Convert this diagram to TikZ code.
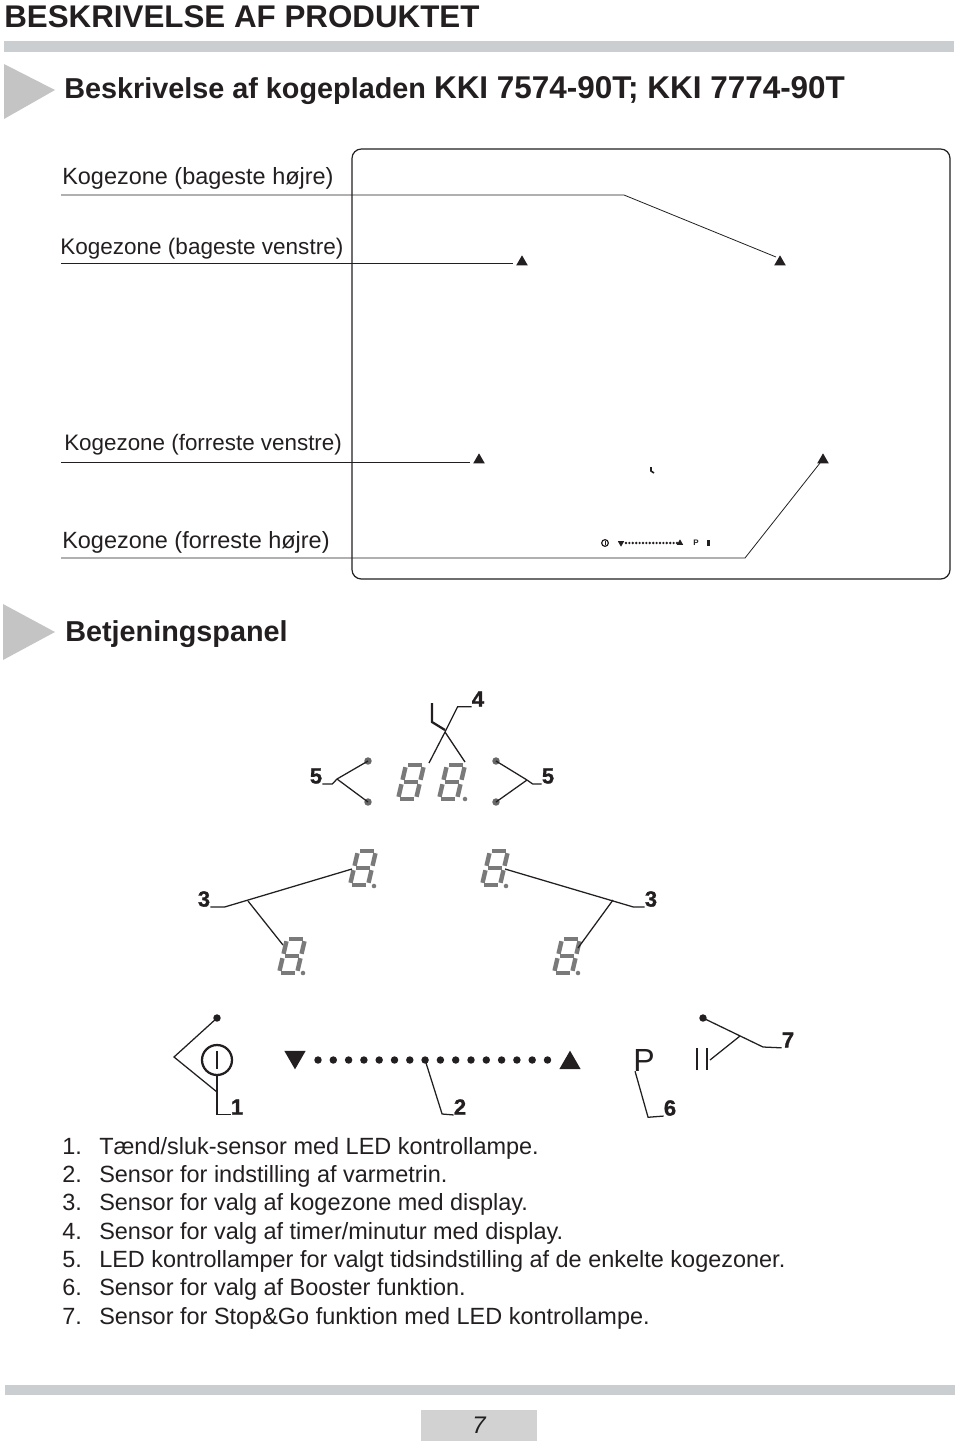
\documentclass[tikz,border=0pt]{standalone}
\usepackage{fontspec}
\setmainfont{Liberation Sans}
\newfontfamily\numfont[FakeBold=1.2]{Liberation Sans Bold}
\usetikzlibrary{positioning,shapes.geometric}
\definecolor{barcol}{HTML}{CBCED1}
\definecolor{tricol}{HTML}{C4C4C4}
\definecolor{pagecol}{HTML}{D2D2D2}
\definecolor{inkcol}{HTML}{231F20}
\definecolor{segcol}{HTML}{7A7A7A}

\begin{document}
\begin{tikzpicture}[
    x=0.75pt, y=-0.75pt,
    txt/.style={anchor=base west, inner sep=0, text=inkcol, font=\fontsize{17.6}{20}\selectfont},
    head/.style={anchor=base west, inner sep=0, text=inkcol, font=\bfseries\fontsize{21.6}{25}\selectfont},
    num/.style={inner sep=0, text=inkcol, font=\numfont\fontsize{16.5}{19}\selectfont},
    leader/.style={draw=inkcol, line width=0.6pt},
    panelline/.style={draw=inkcol, line width=0.95pt},
    tipmark/.style={regular polygon, regular polygon sides=3, fill=inkcol, inner sep=0, minimum size=10pt},
    led/.style={circle, fill=inkcol, inner sep=0, minimum size=5.6pt},
    grayled/.style={circle, fill=segcol!85!black, inner sep=0, minimum size=5.6pt},
    digit/.pic={
        \foreach \a/\b/\c/\d in {10/2/28/2, 6/19/24/19, 2/36/20/36, 10/2/6/19, 6/19/2/36, 28/2/24/19, 24/19/20/36}
            \draw[segcol, line width=3.3pt, shorten >=1.7pt, shorten <=1.7pt] (\a,\b) -- (\c,\d);
    },
]
\useasboundingbox (0,0) rectangle (960,1443);

% page furniture
\node[head, font=\bfseries\fontsize{23.5}{28}\selectfont] (title) at (4,27) {BESKRIVELSE AF PRODUKTET};
\fill[barcol] (4,41) rectangle (954,52);
\fill[tricol] (4,64) -- (55,90) -- (4,119) -- cycle;
\node[head] (sub1) at (64,98) {Beskrivelse af kogepladen {\fontsize{23.6}{25}\selectfont KKI 7574-90T; KKI 7774-90T}};
\fill[tricol] (3,604) -- (55,632) -- (3,660) -- cycle;
\node[head] (sub2) at (65,641) {Betjeningspanel};

% hob
\draw[inkcol, line width=0.9pt, rounded corners=7pt] (352,149) rectangle (950,579);

\node[txt] (zone1) at (62,184) {Kogezone (bageste højre)};
\node[txt, font=\fontsize{16.9}{20}\selectfont] (zone2) at (60,254) {Kogezone (bageste venstre)};
\node[txt, font=\fontsize{16.8}{20}\selectfont] (zone3) at (64,450) {Kogezone (forreste venstre)};
\node[txt] (zone4) at (62,548) {Kogezone (forreste højre)};

\node[tipmark] (tri1) at (780,262) {};
\node[tipmark] (tri2) at (522,262) {};
\node[tipmark] (tri3) at (479,460) {};
\node[tipmark] (tri4) at (823,460) {};

\coordinate (z1a) at (61,195);
\coordinate (z1b) at (624,195);
\coordinate (z1c) at (776,257);
\coordinate (z2a) at (61,263);
\coordinate (z2b) at (513,263);
\coordinate (z3a) at (61,462);
\coordinate (z3b) at (470,462);
\coordinate (z4a) at (61,558);
\coordinate (z4b) at (745,558);
\coordinate (z4c) at (820,463);
\draw[leader] (z1a) -- (z1b) -- (z1c);
\draw[leader] (z2a) -- (z2b);
\draw[leader] (z3a) -- (z3b);
\draw[leader] (z4a) -- (z4b) -- (z4c);

% small panel on the hob
\draw[inkcol, line width=1.2pt] (651,467) -- (651,471) -- (654,473);
\node[circle, draw=inkcol, line width=0.9pt, inner sep=0, minimum size=5pt] (miniOn) at (605,543) {};
\draw[inkcol, line width=0.5pt] (605,541) -- (605,545);
\node[regular polygon, regular polygon sides=3, shape border rotate=180, fill=inkcol, inner sep=0, minimum size=5.5pt] (miniDown) at (621,543) {};
\foreach \i in {0,...,15}
    \fill[inkcol] (626+\i*3.4,543) circle (1pt);
\node[regular polygon, regular polygon sides=3, fill=inkcol, inner sep=0, minimum size=5.5pt] (miniUp) at (680,543) {};
\node[inner sep=0, text=inkcol, font=\bfseries\fontsize{6}{7}\selectfont] (miniP) at (696,543) {P};
\fill[inkcol] (707,540) rectangle (710,546);

% displays
\pic at (396,763) {digit};
\pic at (437,763) {digit};
\pic at (348,849) {digit};
\pic at (480,849) {digit};
\pic at (277,937) {digit};
\pic at (552,937) {digit};
\foreach \x/\y in {465/799, 374/886, 506/886, 303/973, 578/973}
    \fill[segcol] (\x,\y) circle (1.7pt);

% timer
\draw[inkcol, line width=1.7pt] (432,703) -- (432,722) -- (445,730);
\node[num] (n4) at (478,699) {4};
\coordinate (j4) at (445,732);
\coordinate (d4a) at (429,763);
\coordinate (d4b) at (465,762);
\draw[panelline] (n4.south west) -- ++(-14,0) -- (j4) -- (d4a);
\draw[panelline] (j4) -- (d4b);

\node[grayled] (ledA) at (368,761) {};
\node[grayled] (ledB) at (368,802) {};
\node[grayled] (ledC) at (496,761) {};
\node[grayled] (ledD) at (496,802) {};
\node[num] (n5l) at (316,776) {5};
\node[num] (n5r) at (548,776) {5};
\coordinate (j5l) at (337,779);
\coordinate (j5r) at (527,780);
\draw[panelline] (n5l.south east) -- ++(10,0) -- (j5l) -- (ledA.center);
\draw[panelline] (j5l) -- (ledB.center);
\draw[panelline] (n5r.south west) -- ++(-9,0) -- (j5r) -- (ledC.center);
\draw[panelline] (j5r) -- (ledD.center);

\node[num] (n3l) at (204,899) {3};
\node[num] (n3r) at (651,899) {3};
\coordinate (d3a) at (352,869);
\coordinate (d3b) at (283,945);
\coordinate (j3l) at (248,901);
\coordinate (d3c) at (505,869);
\coordinate (d3d) at (578,948);
\coordinate (j3r) at (613,900);
\draw[panelline] (n3l.south east) -- ++(14,0) -- (d3a);
\draw[panelline] (j3l) -- (d3b);
\draw[panelline] (n3r.south west) -- ++(-11,0) -- (d3c);
\draw[panelline] (j3r) -- (d3d);

% sensors
\node[circle, draw=inkcol, line width=1.7pt, inner sep=0, minimum size=22.5pt] (onoff) at (217,1060) {};
\draw[inkcol, line width=0.9pt] (217,1051) -- (217,1069);
\node[led] (ledOn) at (217,1018) {};
\node[num] (n1) at (237,1107) {1};
\coordinate (j1a) at (174,1057);
\coordinate (j1b) at (217,1092);
\draw[panelline] (ledOn.center) -- (j1a) -- (j1b);
\draw[panelline] (onoff.south) -- (n1.south west -| onoff.south) -- (n1.south west);

\node[regular polygon, regular polygon sides=3, shape border rotate=180, fill=inkcol, inner sep=0, minimum size=18.5pt] (down) at (295,1057) {};
\node[regular polygon, regular polygon sides=3, fill=inkcol, inner sep=0, minimum size=18.5pt] (up) at (570,1063) {};
\foreach \i in {0,...,15}
    \node[led] (seg\i) at (318+\i*15.3,1060) {};
\node[num] (n2) at (460,1107) {2};
\draw[panelline] (seg7.center) -- ++(17,54) -- (n2.south west);

\node[inner sep=0, text=inkcol, font=\fontsize{24}{28}\selectfont] (pee) at (644,1060) {P};
\node[num] (n6) at (670,1108) {6};
\draw[panelline] (pee.south west) ++(2,0) -- ++(13,46) -- (n6.south west);

\draw[inkcol, line width=2.1pt] (697,1048) -- (697,1070);
\draw[inkcol, line width=2.1pt] (707,1048) -- (707,1070);
\node[led] (ledGo) at (703,1018) {};
\node[num] (n7) at (788,1040) {7};
\coordinate (j7) at (740,1036);
\coordinate (d7) at (710,1060);
\draw[panelline] (ledGo.center) -- (763,1047) -- (n7.south west);
\draw[panelline] (j7) -- (d7);

% list
\foreach \lab/\txt [count=\i from 0] in {1./{Tænd/sluk-sensor med LED kontrollampe.},
    2./{Sensor for indstilling af varmetrin.},
    3./{Sensor for valg af kogezone med display.},
    4./{Sensor for valg af timer/minutur med display.},
    5./{LED kontrollamper for valgt tidsindstilling af de enkelte kogezoner.},
    6./{Sensor for valg af Booster funktion.},
    7./{Sensor for Stop\&Go funktion med LED kontrollampe.}} {
    \node[txt] (idx\i) at (62,1154+\i*28.35) {\lab};
    \node[txt] (item\i) at (99,1154+\i*28.35) {\txt};
}

% footer
\fill[barcol] (5,1385) rectangle (955,1395);
\node[fill=pagecol, inner sep=0, minimum width=87pt, minimum height=23.5pt, text=inkcol, font=\itshape\fontsize{18}{20}\selectfont] (page) at (479,1425.5) {7};
\end{tikzpicture}
\end{document}
